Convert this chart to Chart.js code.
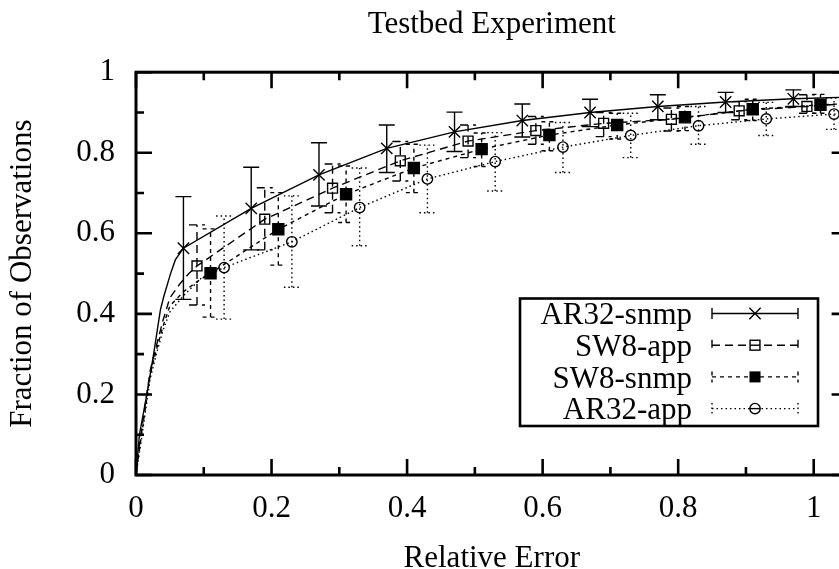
<!DOCTYPE html>
<html>
<head>
<meta charset="utf-8">
<title>Testbed Experiment</title>
<script src="https://cdn.jsdelivr.net/npm/chart.js@4.4.1/dist/chart.umd.min.js"></script>
<style>
html, body { margin: 0; padding: 0; overflow: hidden; background: #fff; }
#wrap { width: 839px; height: 569px; overflow: hidden; }
canvas { display: block; }
</style>
</head>
<body>
<div id="wrap"><canvas id="chart" width="857" height="580"></canvas></div>
<script>
// ---- data ----
const seriesNames = ["AR32-snmp", "SW8-app", "SW8-snmp", "AR32-app"];

const xTickValues = [0, 0.2, 0.4, 0.6, 0.8, 1];
const xTickLabels = ["0", "0.2", "0.4", "0.6", "0.8", "1"];
const yTickValues = [0, 0.2, 0.4, 0.6, 0.8, 1];
const yTickLabels = ["0", "0.2", "0.4", "0.6", "0.8", "1"];
const xMin = 0, xMax = 1.05;
const yMin = 0, yMax = 1;

// points with error bars
const arSnmpX  = [0.07, 0.17, 0.27, 0.37, 0.47, 0.57, 0.67, 0.77, 0.87, 0.97];
const arSnmpY  = [0.563, 0.662, 0.745, 0.811, 0.852, 0.880, 0.900, 0.915, 0.926, 0.934];
const arSnmpLo = [0.436, 0.559, 0.668, 0.751, 0.803, 0.839, 0.865, 0.882, 0.900, 0.915];
const arSnmpHi = [0.691, 0.764, 0.825, 0.869, 0.901, 0.921, 0.933, 0.944, 0.950, 0.956];

const swAppX  = [0.09, 0.19, 0.29, 0.39, 0.49, 0.59, 0.69, 0.79, 0.89, 0.99];
const swAppY  = [0.519, 0.635, 0.712, 0.780, 0.829, 0.855, 0.873, 0.883, 0.904, 0.915];
const swAppLo = [0.422, 0.559, 0.651, 0.730, 0.788, 0.821, 0.840, 0.854, 0.882, 0.898];
const swAppHi = [0.621, 0.713, 0.772, 0.828, 0.869, 0.890, 0.900, 0.911, 0.927, 0.944];

const swSnmpX  = [0.11, 0.21, 0.31, 0.41, 0.51, 0.61, 0.71, 0.81, 0.91, 1.01];
const swSnmpY  = [0.501, 0.610, 0.697, 0.762, 0.809, 0.844, 0.869, 0.888, 0.908, 0.919];
const swSnmpLo = [0.392, 0.521, 0.627, 0.701, 0.766, 0.805, 0.834, 0.855, 0.880, 0.898];
const swSnmpHi = [0.611, 0.701, 0.767, 0.821, 0.849, 0.877, 0.898, 0.915, 0.933, 0.945];

const arAppX  = [0.13, 0.23, 0.33, 0.43, 0.53, 0.63, 0.73, 0.83, 0.93, 1.03];
const arAppY  = [0.515, 0.579, 0.664, 0.735, 0.778, 0.814, 0.843, 0.867, 0.884, 0.896];
const arAppLo = [0.387, 0.466, 0.569, 0.651, 0.705, 0.751, 0.788, 0.821, 0.843, 0.858];
const arAppHi = [0.643, 0.693, 0.762, 0.819, 0.850, 0.875, 0.898, 0.915, 0.925, 0.936];

// steep start of each curve, before its first error-bar point
const arSnmpHeadX = [0, 0.005, 0.016, 0.026, 0.036, 0.041, 0.051, 0.058];
const arSnmpHeadY = [0, 0.10, 0.20, 0.30, 0.41, 0.443, 0.50, 0.534];
const swAppHeadX  = [0, 0.004, 0.009, 0.015, 0.021, 0.030, 0.040, 0.050, 0.065, 0.078];
const swAppHeadY  = [0, 0.06, 0.12, 0.19, 0.26, 0.32, 0.385, 0.44, 0.475, 0.50];
const swSnmpHeadX = [0, 0.004, 0.009, 0.015, 0.021, 0.030, 0.040, 0.050, 0.070, 0.090];
const swSnmpHeadY = [0, 0.05, 0.11, 0.18, 0.25, 0.31, 0.37, 0.42, 0.455, 0.48];
const arAppHeadX  = [0, 0.004, 0.009, 0.015, 0.021, 0.030, 0.040, 0.050, 0.070, 0.097];
const arAppHeadY  = [0, 0.045, 0.10, 0.17, 0.24, 0.30, 0.36, 0.405, 0.445, 0.49];

// curve value at the right edge of the plot
const arSnmpTailY = 0.938;
const swAppTailY  = 0.922;
const swSnmpTailY = 0.922;
const arAppTailY  = 0.898;

// ---- styles ----
const FONT = '"Liberation Serif", "Times New Roman", serif';
const styles = [
  { dash: [], point: "crossRot", radius: 8, fill: "rgba(0,0,0,0)" },
  { dash: [8, 5], point: "rect", radius: 7, fill: "rgba(0,0,0,0)" },
  { dash: [4, 4], point: "rect", radius: 7.8, fill: "#000" },
  { dash: [1.5, 3], point: "circle", radius: 5.2, fill: "rgba(0,0,0,0)" }
];

const series = [
  { x: arSnmpX, y: arSnmpY, lo: arSnmpLo, hi: arSnmpHi, hx: arSnmpHeadX, hy: arSnmpHeadY, tail: arSnmpTailY },
  { x: swAppX, y: swAppY, lo: swAppLo, hi: swAppHi, hx: swAppHeadX, hy: swAppHeadY, tail: swAppTailY },
  { x: swSnmpX, y: swSnmpY, lo: swSnmpLo, hi: swSnmpHi, hx: swSnmpHeadX, hy: swSnmpHeadY, tail: swSnmpTailY },
  { x: arAppX, y: arAppY, lo: arAppLo, hi: arAppHi, hx: arAppHeadX, hy: arAppHeadY, tail: arAppTailY }
];

function buildCurve(s) {
  const pts = s.hx.map((x, i) => ({ x: x, y: s.hy[i] }));
  s.x.forEach((x, i) => pts.push({ x: x, y: s.y[i] }));
  pts.push({ x: xMax, y: s.tail });
  return pts;
}

const datasets = [];
series.forEach((s, i) => {
  const st = styles[i];
  datasets.push({
    label: seriesNames[i] + " curve",
    data: buildCurve(s),
    showLine: true,
    pointRadius: 0,
    borderColor: "#000",
    borderWidth: 1.4,
    borderDash: st.dash,
    tension: 0,
    fill: false
  });
  datasets.push({
    label: seriesNames[i],
    data: s.x.map((x, j) => ({ x: x, y: s.y[j] })),
    showLine: false,
    pointStyle: st.point,
    pointRadius: st.radius,
    pointHoverRadius: st.radius,
    pointBorderWidth: 1.4,
    pointBorderColor: "#000",
    pointBackgroundColor: st.fill
  });
});

function labelFor(values, labels, v) {
  for (let k = 0; k < values.length; k++) {
    if (Math.abs(values[k] - v) < 1e-6) return labels[k];
  }
  return "";
}

// error bars for every marker
const errorBars = {
  id: "errorBars",
  afterDatasetsDraw(chart) {
    const ctx = chart.ctx, xs = chart.scales.x, ys = chart.scales.y, a = chart.chartArea;
    ctx.save();
    ctx.beginPath();
    ctx.rect(a.left, a.top, a.right - a.left, a.bottom - a.top);
    ctx.clip();
    ctx.strokeStyle = "#000";
    ctx.lineWidth = 1.4;
    series.forEach((s, i) => {
      ctx.setLineDash(styles[i].dash);
      s.x.forEach((x, j) => {
        const px = xs.getPixelForValue(x);
        const pl = ys.getPixelForValue(s.lo[j]);
        const ph = ys.getPixelForValue(s.hi[j]);
        ctx.beginPath();
        ctx.moveTo(px, pl); ctx.lineTo(px, ph);
        ctx.moveTo(px - 8, pl); ctx.lineTo(px + 8, pl);
        ctx.moveTo(px - 8, ph); ctx.lineTo(px + 8, ph);
        ctx.stroke();
      });
    });
    ctx.restore();
  }
};

// gnuplot style frame with inward ticks on all sides
const frame = {
  id: "frame",
  afterDraw(chart) {
    const ctx = chart.ctx, a = chart.chartArea, xs = chart.scales.x, ys = chart.scales.y;
    ctx.save();
    ctx.setLineDash([]);
    ctx.strokeStyle = "#000";
    ctx.lineWidth = 2.6;
    xs.ticks.forEach(t => {
      const px = xs.getPixelForValue(t.value);
      const len = labelFor(xTickValues, xTickLabels, t.value) !== "" ? 16 : 8;
      ctx.beginPath();
      ctx.moveTo(px, a.bottom); ctx.lineTo(px, a.bottom - len);
      ctx.moveTo(px, a.top); ctx.lineTo(px, a.top + len);
      ctx.stroke();
    });
    ys.ticks.forEach(t => {
      const py = ys.getPixelForValue(t.value);
      const len = labelFor(yTickValues, yTickLabels, t.value) !== "" ? 16 : 8;
      ctx.beginPath();
      ctx.moveTo(a.left, py); ctx.lineTo(a.left + len, py);
      ctx.moveTo(a.right, py); ctx.lineTo(a.right - len, py);
      ctx.stroke();
    });
    ctx.lineWidth = 3;
    ctx.strokeRect(a.left, a.top, a.right - a.left, a.bottom - a.top);
    ctx.restore();
  }
};

// key box with error-bar samples
const keyBox = {
  id: "keyBox",
  afterDraw(chart) {
    const ctx = chart.ctx;
    const box = { left: 520, top: 298.5, right: 818, bottom: 426 };
    const textRight = 692, x1 = 712, x2 = 798, mx = 755;
    ctx.save();
    ctx.strokeStyle = "#000";
    ctx.fillStyle = "#000";
    ctx.lineWidth = 2.6;
    ctx.setLineDash([]);
    ctx.strokeRect(box.left, box.top, box.right - box.left, box.bottom - box.top);
    ctx.font = "31px " + FONT;
    ctx.textAlign = "right";
    ctx.textBaseline = "middle";
    seriesNames.forEach((name, i) => {
      const st = styles[i];
      const ry = 313.5 + i * 31.7;
      ctx.setLineDash([]);
      ctx.fillText(name, textRight, ry + 2.5);
      ctx.lineWidth = 1.4;
      ctx.setLineDash(st.dash);
      ctx.beginPath();
      ctx.moveTo(x1, ry); ctx.lineTo(x2, ry);
      ctx.moveTo(x1, ry - 5.5); ctx.lineTo(x1, ry + 5.5);
      ctx.moveTo(x2, ry - 5.5); ctx.lineTo(x2, ry + 5.5);
      ctx.stroke();
      ctx.setLineDash([]);
      ctx.beginPath();
      if (st.point === "crossRot") {
        const d = st.radius * Math.SQRT1_2;
        ctx.moveTo(mx - d, ry - d); ctx.lineTo(mx + d, ry + d);
        ctx.moveTo(mx - d, ry + d); ctx.lineTo(mx + d, ry - d);
        ctx.stroke();
      } else if (st.point === "rect") {
        const h = st.radius * Math.SQRT1_2;
        if (st.fill === "#000") {
          ctx.fillRect(mx - h, ry - h, 2 * h, 2 * h);
        } else {
          ctx.fillStyle = "#fff";
          ctx.fillRect(mx - h, ry - h, 2 * h, 2 * h);
          ctx.fillStyle = "#000";
          ctx.strokeRect(mx - h, ry - h, 2 * h, 2 * h);
          ctx.beginPath(); ctx.moveTo(mx - h, ry); ctx.lineTo(mx + h, ry); ctx.stroke();
        }
      } else {
        ctx.fillStyle = "#fff";
        ctx.arc(mx, ry, st.radius, 0, Math.PI * 2);
        ctx.fill();
        ctx.fillStyle = "#000";
        ctx.stroke();
        ctx.beginPath(); ctx.moveTo(mx - st.radius, ry); ctx.lineTo(mx + st.radius, ry); ctx.stroke();
      }
    });
    ctx.restore();
  }
};

Chart.defaults.color = "#000";
Chart.defaults.font.family = FONT;

new Chart(document.getElementById("chart"), {
  type: "scatter",
  data: { datasets: datasets },
  options: {
    responsive: false,
    animation: false,
    layout: { padding: { left: 0, right: 4, top: 0, bottom: 0 } },
    plugins: {
      legend: { display: false },
      tooltip: { enabled: false },
      title: {
        display: true,
        text: "Testbed Experiment",
        fullSize: false,
        color: "#000",
        font: { family: FONT, size: 31, weight: "normal", lineHeight: 1.2 },
        padding: { top: 6, bottom: 29 }
      }
    },
    scales: {
      x: {
        type: "linear",
        min: xMin,
        max: xMax,
        grid: { display: false, drawTicks: false },
        border: { display: false },
        ticks: {
          stepSize: 0.1,
          includeBounds: false,
          autoSkip: false,
          maxRotation: 0,
          padding: 15,
          font: { family: FONT, size: 31, lineHeight: 1.2 },
          callback: v => labelFor(xTickValues, xTickLabels, v)
        },
        title: {
          display: true,
          text: "Relative Error",
          font: { family: FONT, size: 31, lineHeight: 1.2 },
          padding: { top: 0, bottom: 3 }
        },
        afterFit(scale) { scale.height = 105; }
      },
      y: {
        type: "linear",
        min: yMin,
        max: yMax,
        grid: { display: false, drawTicks: false },
        border: { display: false },
        ticks: {
          stepSize: 0.1,
          autoSkip: false,
          padding: 21,
          font: { family: FONT, size: 31, lineHeight: 1.2 },
          callback: v => labelFor(yTickValues, yTickLabels, v)
        },
        title: {
          display: true,
          text: "Fraction of Observations",
          font: { family: FONT, size: 31, lineHeight: 1.2 },
          padding: { top: 4, bottom: 0 }
        },
        afterFit(scale) { scale.width = 136; }
      }
    }
  },
  plugins: [errorBars, frame, keyBox]
});
</script>
</body>
</html>
